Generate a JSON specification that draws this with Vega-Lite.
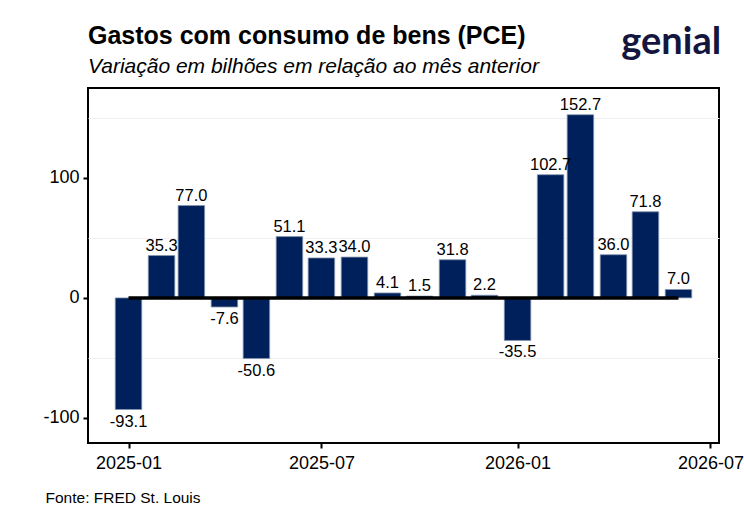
{
  "$schema": "https://vega.github.io/schema/vega-lite/v6.json",
  "width": 631,
  "height": 355,
  "autosize": {"type": "none"},
  "padding": {"left": 88, "top": 88, "right": 25, "bottom": 88},
  "background": "white",
  "title": {
    "text": "Gastos com consumo de bens (PCE)",
    "subtitle": "Variação em bilhões em relação ao mês anterior",
    "anchor": "start",
    "frame": "group",
    "font": "Liberation Sans",
    "fontSize": 25,
    "fontWeight": "bold",
    "color": "black",
    "subtitleFont": "Liberation Sans",
    "subtitleFontSize": 21,
    "subtitleFontStyle": "italic",
    "subtitleColor": "black",
    "subtitlePadding": 7,
    "offset": -53
  },
  "config": {
    "view": {"stroke": "black", "strokeWidth": 2},
    "font": "Liberation Sans",
    "axis": {
      "domain": false,
      "labelFont": "Liberation Sans",
      "labelFontSize": 18,
      "labelColor": "black",
      "tickColor": "black",
      "tickWidth": 2,
      "tickSize": 5
    }
  },
  "data": {
    "values": [
      {"date": "2025-01-01T00:00:00", "value": -93.1},
      {"date": "2025-02-01T00:00:00", "value": 35.3},
      {"date": "2025-03-01T00:00:00", "value": 77.0},
      {"date": "2025-04-01T00:00:00", "value": -7.6},
      {"date": "2025-05-01T00:00:00", "value": -50.6},
      {"date": "2025-06-01T00:00:00", "value": 51.1},
      {"date": "2025-07-01T00:00:00", "value": 33.3},
      {"date": "2025-08-01T00:00:00", "value": 34.0},
      {"date": "2025-09-01T00:00:00", "value": 4.1},
      {"date": "2025-10-01T00:00:00", "value": 1.5},
      {"date": "2025-11-01T00:00:00", "value": 31.8},
      {"date": "2025-12-01T00:00:00", "value": 2.2},
      {"date": "2026-01-01T00:00:00", "value": -35.5},
      {"date": "2026-02-01T00:00:00", "value": 102.7},
      {"date": "2026-03-01T00:00:00", "value": 152.7},
      {"date": "2026-04-01T00:00:00", "value": 36.0},
      {"date": "2026-05-01T00:00:00", "value": 71.8},
      {"date": "2026-06-01T00:00:00", "value": 7.0}
    ]
  },
  "transform": [
    {"calculate": "replace(format(datum.value, '.1f'), '\u2212', '-')", "as": "label"}
  ],
  "layer": [
    {
      "mark": {"type": "bar", "width": 26.5, "color": "#00205b", "stroke": "#8796b0", "strokeWidth": 0.8},
      "encoding": {
        "x": {
          "field": "date",
          "type": "temporal",
          "scale": {
            "domain": [
              {"year": 2024, "month": 11, "date": 24},
              {"year": 2026, "month": 7, "date": 9}
            ],
            "nice": false,
            "padding": 0
          },
          "axis": {
            "values": [
              {"year": 2025, "month": 1, "date": 1},
              {"year": 2025, "month": 7, "date": 1},
              {"year": 2026, "month": 1, "date": 1},
              {"year": 2026, "month": 7, "date": 1}
            ],
            "format": "%Y-%m",
            "grid": false,
            "labelPadding": 6,
            "title": "Fonte: FRED St. Louis",
            "titleFont": "Liberation Sans",
            "titleFontSize": 15.5,
            "titleFontWeight": "normal",
            "titleColor": "black",
            "titleAlign": "left",
            "titleAnchor": "start",
            "titleBaseline": "alphabetic",
            "titleX": -43,
            "titleY": 59
          }
        },
        "y": {
          "field": "value",
          "type": "quantitative",
          "scale": {"domain": [-121, 175], "nice": false, "zero": false, "padding": 0},
          "axis": {
            "title": null,
            "values": [-100, -50, 0, 50, 100, 150],
            "labelExpr": "datum.value % 100 == 0 ? replace(datum.label, '\u2212', '-') : ''",
            "tickOpacity": {"condition": {"test": "datum.value % 100 != 0", "value": 0}, "value": 1},
            "grid": true,
            "gridColor": "#f0f0f0",
            "gridWidth": 1,
            "gridOpacity": {"condition": {"test": "datum.value % 100 != 0", "value": 1}, "value": 0},
            "labelPadding": 4
          }
        }
      }
    },
    {
      "mark": {"type": "rule", "color": "black", "strokeWidth": 3.5},
      "encoding": {
        "x": {"aggregate": "min", "field": "date", "type": "temporal"},
        "x2": {"aggregate": "max", "field": "date"},
        "y": {"datum": 0, "type": "quantitative"}
      }
    },
    {
      "transform": [{"filter": "datum.value >= 0"}],
      "mark": {"type": "text", "baseline": "bottom", "dy": -2, "fontSize": 16.5, "font": "Liberation Sans", "color": "black"},
      "encoding": {
        "x": {"field": "date", "type": "temporal"},
        "y": {"field": "value", "type": "quantitative"},
        "text": {"field": "label", "type": "nominal"}
      }
    },
    {
      "transform": [{"filter": "datum.value < 0"}],
      "mark": {"type": "text", "baseline": "top", "dy": 4, "fontSize": 16.5, "font": "Liberation Sans", "color": "black"},
      "encoding": {
        "x": {"field": "date", "type": "temporal"},
        "y": {"field": "value", "type": "quantitative"},
        "text": {"field": "label", "type": "nominal"}
      }
    },
    {
      "data": {"values": [{"logo": "genial"}]},
      "transform": [],
      "mark": {"type": "text", "align": "right", "baseline": "alphabetic", "fontSize": 38, "font": "Lato", "fontWeight": "bold", "color": "#14163e"},
      "encoding": {
        "x": {"datum": {"year": 2026, "month": 7, "date": 11}, "type": "temporal"},
        "y": {"datum": 203, "type": "quantitative"},
        "text": {"field": "logo", "type": "nominal"}
      }
    }
  ]
}
